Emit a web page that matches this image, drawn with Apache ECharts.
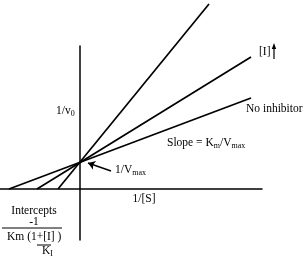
<!DOCTYPE html>
<html>
<head>
<meta charset="utf-8">
<script src="https://cdn.jsdelivr.net/npm/echarts@6/dist/echarts.min.js"></script>
<style>
  html, body { margin: 0; padding: 0; background: #fff; }
  #chart { width: 307px; height: 260px; }
</style>
</head>
<body>
<div id="chart"></div>
<script>
// Lineweaver-Burk lines: [1/[S], 1/v0]
var noInhibitor = [[-7.1, 0], [17.1, 9.1]];
var lowInhibitor = [[-4.3, 0], [17.1, 13.2]];
var highInhibitor = [[-2.2, 0], [12.9, 18.5]];
// arrow pointing at 1/Vmax
var vmaxArrow = [[3.1, 1.8], [0.8, 2.6]];

var serif = '"Liberation Serif", "DejaVu Serif", serif';

var chart = echarts.init(document.getElementById('chart'));

function lineSeries(data) {
    return {
        type: 'line',
        data: data,
        symbol: 'none',
        clip: false,
        silent: true,
        lineStyle: { color: '#000', width: 1.7 }
    };
}

var series = [
    lineSeries(noInhibitor),
    lineSeries(lowInhibitor),
    lineSeries(highInhibitor)
];
series[0].markLine = {
    silent: true,
    symbol: ['none', 'arrow'],
    symbolSize: 7,
    label: { show: false },
    lineStyle: { color: '#000', width: 1.5, type: 'solid' },
    data: [[{ coord: vmaxArrow[0] }, { coord: vmaxArrow[1] }]]
};

function txt(x, y, text, align, rich) {
    return {
        type: 'text',
        x: x, y: y,
        style: {
            text: text,
            fill: '#000',
            font: '11.5px ' + serif,
            align: align || 'left',
            verticalAlign: 'middle',
            rich: rich
        }
    };
}

var subRich = {
    sub: { font: '8px ' + serif, fill: '#000', padding: [6, 0, 0, 0] }
};

chart.setOption({
    animation: false,
    backgroundColor: '#fff',
    grid: { left: 0, right: 45, top: 46, bottom: 20 },
    xAxis: {
        type: 'value', min: -8, max: 18.2,
        axisLine: { onZero: true, lineStyle: { color: '#000', width: 1.5 } },
        axisTick: { show: false }, axisLabel: { show: false }, splitLine: { show: false }
    },
    yAxis: {
        type: 'value', min: -5.1, max: 14.3,
        axisLine: { onZero: true, lineStyle: { color: '#000', width: 1.5 } },
        axisTick: { show: false }, axisLabel: { show: false }, splitLine: { show: false }
    },
    series: series,
    graphic: [
        txt(259, 52, '[I]'),
        { type: 'line', shape: { x1: 274, y1: 59, x2: 274, y2: 46 }, style: { stroke: '#000', lineWidth: 1.2 } },
        { type: 'polygon', shape: { points: [[274, 43], [271.8, 49], [276.2, 49]] }, style: { fill: '#000' } },
        txt(56, 111, '1/v{sub|0}', 'left', subRich),
        txt(246, 109, 'No inhibitor'),
        txt(167, 143, 'Slope = K{sub|m}/V{sub|max}', 'left', subRich),
        txt(115, 170, '1/V{sub|max}', 'left', subRich),
        txt(144, 199, '1/[S]', 'center'),
        txt(34, 211, 'Intercepts', 'center'),
        txt(34, 222, '-1', 'center'),
        { type: 'line', shape: { x1: 2, y1: 228, x2: 62, y2: 228 }, style: { stroke: '#000', lineWidth: 1 } },
        txt(7, 237, 'Km (1+[I] )'),
        { type: 'line', shape: { x1: 37, y1: 245, x2: 51, y2: 245 }, style: { stroke: '#000', lineWidth: 1 } },
        txt(42, 251, 'K{sub|I}', 'left', subRich)
    ]
});
</script>
</body>
</html>
